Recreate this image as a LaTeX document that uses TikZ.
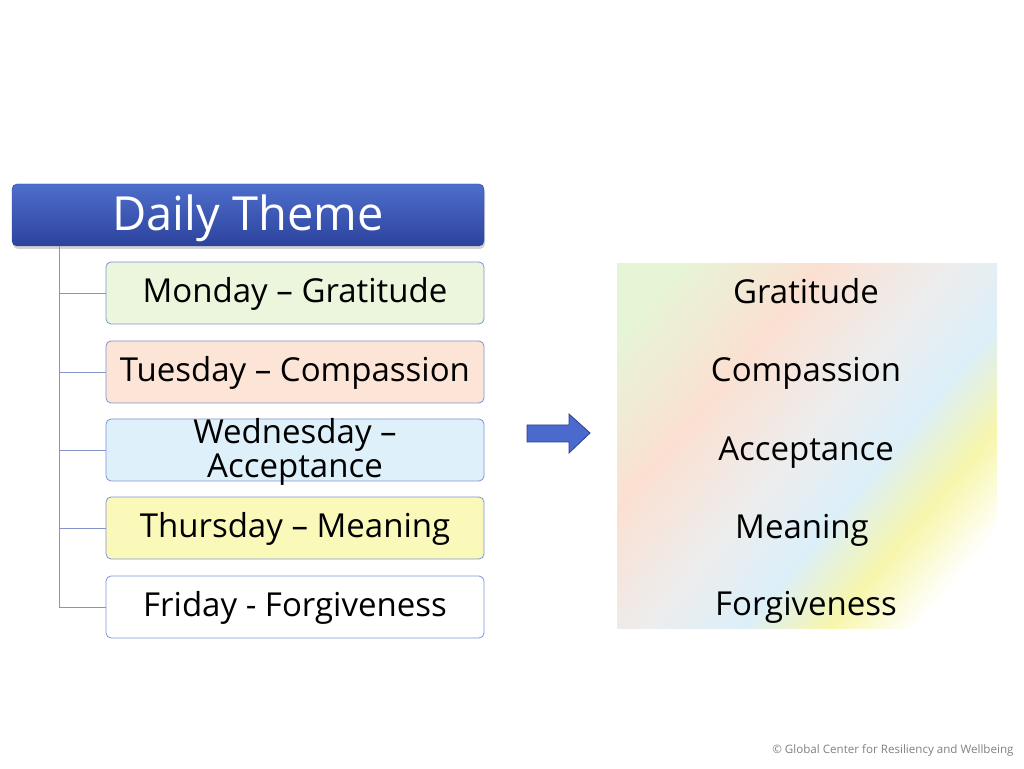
\documentclass[tikz,border=0pt]{standalone}
\usepackage{fontspec}
\setmainfont{Open Sans}
\usetikzlibrary{positioning, shadows}

\definecolor{headtop}{HTML}{4D6ECB}
\definecolor{headbot}{HTML}{2D439E}
\definecolor{boxline}{HTML}{7E92D6}
\definecolor{branchline}{HTML}{8593CC}
\definecolor{monfill}{HTML}{EBF6DC}
\definecolor{tuefill}{HTML}{FCE4D6}
\definecolor{wedfill}{HTML}{DEF0FA}
\definecolor{thufill}{HTML}{FAF9B9}
\definecolor{arrowfill}{HTML}{4A6BCD}
\definecolor{arrowline}{HTML}{2B3F8C}
\definecolor{pgreen}{HTML}{E6F5D6}
\definecolor{ppeach}{HTML}{FBE0D2}
\definecolor{pgrey}{HTML}{EDEDED}
\definecolor{pblue}{HTML}{DCEFF9}
\definecolor{pyellow}{HTML}{F7F6AC}

\pgfdeclarehorizontalshading{rainbowpanel}{100bp}{color(0bp)=(pgreen); color(21bp)=(pgreen);
  color(36bp)=(ppeach); color(49bp)=(pgrey); color(59bp)=(pblue); color(68bp)=(pyellow);
  color(77bp)=(white); color(100bp)=(white)}

\tikzset{
  headbox/.style={rounded corners=5pt, top color=headtop, bottom color=headbot, draw=headbot,
    minimum width=472pt, minimum height=62pt, text=white, font=\fontsize{47}{50}\selectfont,
    text height=36pt, text depth=4pt,
    drop shadow={shadow xshift=1pt, shadow yshift=-3pt, opacity=0.35}},
  daybox/.style={draw=boxline, line width=0.8pt, rounded corners=5pt, minimum width=378pt,
    minimum height=62pt, inner ysep=0pt, text height=26pt, text depth=6pt,
    font=\fontsize{33}{34}\selectfont},
  branch/.style={draw=branchline, line width=0.9pt},
  themeword/.style={anchor=base, font=\fontsize{33}{34}\selectfont}
}

\begin{document}
\begin{tikzpicture}[x=1pt, y=1pt]
    \useasboundingbox (0,0) rectangle (1024,768);
    % Header
    \node[headbox] (daily) at (248,553) {Daily Theme};
    % Day boxes
    \node[daybox, fill=monfill] (mon) at (295,475) {Monday – Gratitude};
    \node[daybox, fill=tuefill] (tue) at (295,396) {Tuesday – Compassion};
    \node[daybox, fill=wedfill] (wed) at (295,318) {};
    \node[align=center, font=\fontsize{33}{34}\selectfont] (wedtext) at ([yshift=-2pt]wed.center) {Wednesday –\\Acceptance};
    \node[daybox, fill=thufill] (thu) at (295,240) {Thursday – Meaning};
    \node[daybox, fill=white] (fri) at (295,161) {Friday - Forgiveness};
    % Branch lines
    \coordinate (trunk) at (59,522);
    \draw[branch] (trunk) |- (fri.west);
    \foreach \d in {mon,tue,wed,thu}
        \draw[branch] (trunk |- \d.west) -- (\d.west);
    % Block arrow
    \draw[fill=arrowfill, draw=arrowline, line width=0.8pt, line join=miter]
        (527,343) -- (569,343) -- (569,354) -- (590,335) -- (569,315) -- (569,326) -- (527,326) -- cycle;
    % Panel
    \fill[shading=rainbowpanel, shading angle=-40] (617,140) rectangle (997,504);
    \node[themeword] (gratitude) at (806,464) {Gratitude};
    \node[themeword] (compassion) at (806,386) {Compassion};
    \node[themeword] (acceptance) at (806,307) {Acceptance};
    \node[themeword] (meaning) at (802,229) {Meaning};
    \node[themeword] (forgiveness) at (806,152) {Forgiveness};
    % Footer
    \node[anchor=east, text=gray, font=\fontsize{11.6}{13}\selectfont] (credit) at (1017,18)
        {© Global Center for Resiliency and Wellbeing};
\end{tikzpicture}
\end{document}
